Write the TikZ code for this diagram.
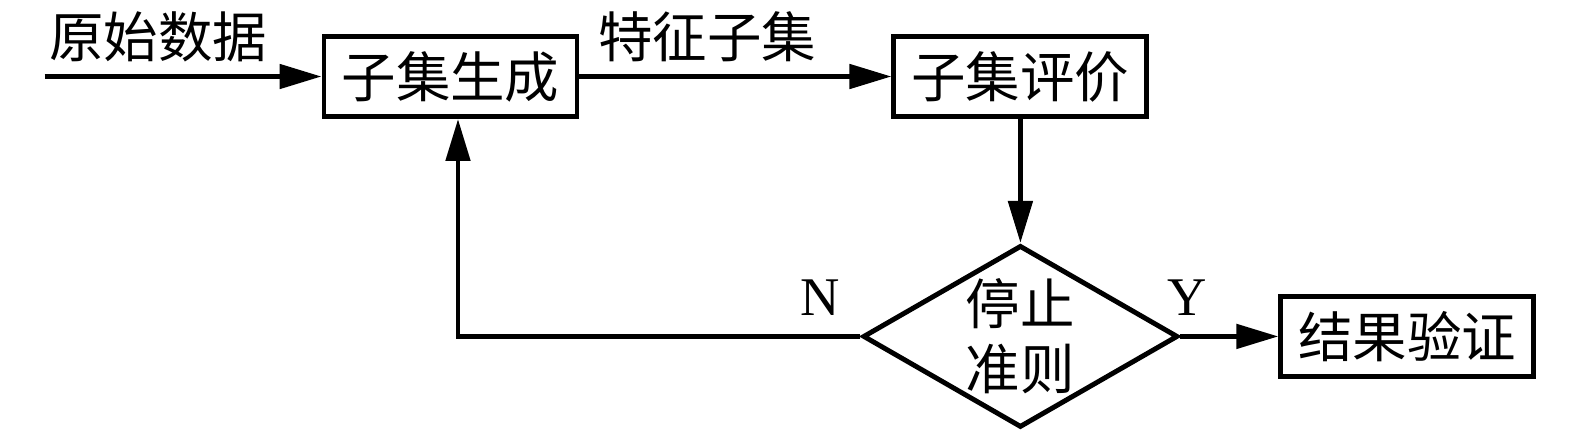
\documentclass[tikz,border=0pt]{standalone}
\usepackage{fontspec}
\setmainfont{Liberation Serif}
\newfontfamily\cjk{Noto Sans CJK SC}
\usetikzlibrary{arrows.meta,positioning,shapes.geometric}

\begin{document}
\begin{tikzpicture}[->,>={Triangle[length=0.42cm,width=0.24cm]},line width=1.4pt,
                    font=\cjk\fontsize{15.5pt}{18.5pt}\selectfont,
                    block/.style={draw,rectangle,minimum width=2.53cm,minimum height=0.8cm,inner sep=0pt},
                    decision/.style={draw,diamond,aspect=1.74,minimum width=3.15cm,minimum height=1.82cm,
                                     inner sep=-0.05cm,align=center},
                    tag/.style={font=\fontsize{15.5pt}{18pt}\selectfont},
                ]
  \useasboundingbox (0,0) rectangle (15.75,4.29);

  \node[block]      (gen)                       at (4.505,3.525) {子集生成};
  \node[block]      (eval)  [right=3.12cm of gen]               {子集评价};
  \node[decision]   (stop)  [below=1.24cm of eval]              {停止\\准则};
  \node[block]      (check) [right=0.98cm of stop]              {结果验证};
  \coordinate[left=2.77cm of gen] (in);

  \path (in)   edge node[above,pos=0.41] {原始数据} (gen)
        (gen)  edge node[above,pos=0.41] {特征子集} (eval)
        (eval) edge                                 (stop)
        (stop) edge node[tag,above,pos=0.07,yshift=2pt] {Y} (check)
        ;
  \draw (stop.west) -| node[tag,above,pos=0.05,yshift=2pt] {N} ([xshift=0.075cm]gen.south);
\end{tikzpicture}
\end{document}
